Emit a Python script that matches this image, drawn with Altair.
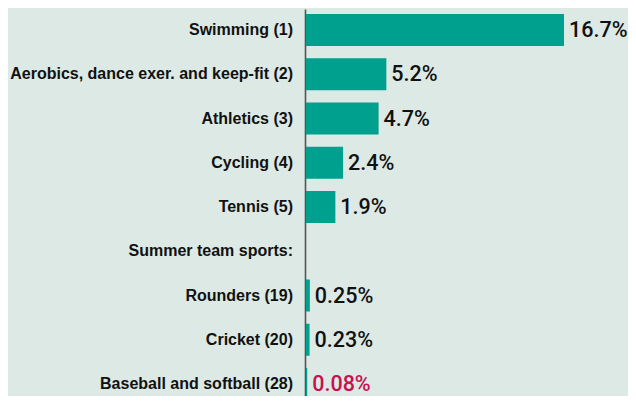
import altair as alt
import pandas as pd

categories = [
    "Swimming (1)",
    "Aerobics, dance exer. and keep-fit (2)",
    "Athletics (3)",
    "Cycling (4)",
    "Tennis (5)",
    "Summer team sports:",
    "Rounders (19)",
    "Cricket (20)",
    "Baseball and softball (28)",
]
values = [16.7, 5.2, 4.7, 2.4, 1.9, None, 0.25, 0.23, 0.08]
value_labels = ["16.7%", "5.2%", "4.7%", "2.4%", "1.9%", "", "0.25%", "0.23%", "0.08%"]
rows = list(range(len(categories)))

df = pd.DataFrame({"row": rows, "category": categories, "value": values, "label": value_labels})

BG = "#dce9e4"
TEAL = "#00a08e"
CRIMSON = "#c8104f"
FONT = "Liberation Sans"

y_scale = alt.Scale(domain=[-0.4746, 8.271], reverse=True, nice=False, zero=False, padding=0)
y_enc = alt.Y(
    "row:Q",
    scale=y_scale,
    axis=alt.Axis(labels=False, ticks=False, grid=False, title=None,
                  domain=True, domainColor="#555555", domainWidth=1.6, offset=1),
)
x_scale = alt.Scale(domain=[0, 20], nice=False, padding=0)

base = alt.Chart(df)

bars = base.transform_filter("datum.value != null").mark_bar(
    color=TEAL, height=32, clip=True, orient="horizontal"
).encode(
    x=alt.X("value:Q", scale=x_scale, axis=None),
    x2=alt.datum(0),
    y=y_enc,
)

cat_text = base.mark_text(
    align="right", baseline="middle", dx=-13, font=FONT, fontSize=16,
    fontWeight="bold", color="#111111",
).encode(
    x=alt.value(0),
    y=alt.Y("row:Q"),
    text="category:N",
)

val_text = base.transform_filter("datum.value != null").mark_text(
    align="left", baseline="middle", dx=5, dy=1, font="Roboto", fontSize=21.5,
    fontWeight=500,
).encode(
    x=alt.X("value:Q", scale=x_scale),
    y=alt.Y("row:Q"),
    text="label:N",
    color=alt.condition(alt.datum.value < 0.1, alt.value(CRIMSON), alt.value("#111111")),
)

chart = (
    alt.layer(bars, cat_text, val_text)
    .properties(
        width=309,
        height=387,
        background=BG,
        padding={"left": 298, "top": 1, "right": 13, "bottom": 0},
        autosize=alt.AutoSizeParams(type="none"),
    )
    .configure_view(stroke=None)
)

chart.save("out.html", embed_options={"renderer": "svg", "actions": False})
